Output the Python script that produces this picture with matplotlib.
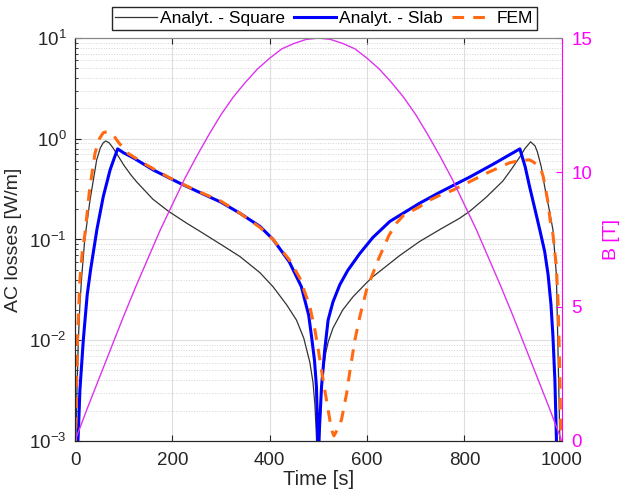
import numpy as np
import matplotlib
matplotlib.use("Agg")
import matplotlib.pyplot as plt
from matplotlib.ticker import LogLocator, NullFormatter

plt.rcParams["font.family"] = ["Liberation Sans", "DejaVu Sans"]

TXT = "#262626"
MAG_LINE = "#dd33ee"
MAG_TXT = "#ff00ff"
BLUE = "#0000ff"
ORANGE = "#ff6a13"
BLACK = "#333333"

# Analytical - square (log10 of losses, W/m)
t_square = [0, 1.5, 4, 6.8, 10, 13.7, 20, 30.8, 38, 44.5, 52, 58, 63, 70, 78, 86,
            100, 115, 127, 160, 192, 230, 257, 300, 339, 380, 407, 435, 455, 470,
            482.5, 489, 493, 496, 498, 500, 501.5, 503, 506, 510, 515, 520, 530,
            550, 571, 599, 612, 667, 708, 750, 790, 811, 845, 879, 897, 914, 924,
            936, 945, 950, 958, 965, 975, 982, 989, 992.5, 996, 998.5]
lg_square = [-3.5, -3.0, -2.5, -2.0, -1.65, -1.37, -1.0, -0.61, -0.40, -0.21, -0.09,
             -0.04, -0.022, -0.04, -0.09, -0.15, -0.26, -0.36, -0.43, -0.60, -0.72,
             -0.84, -0.92, -1.05, -1.17, -1.33, -1.47, -1.65, -1.80, -1.98, -2.22,
             -2.42, -2.65, -2.95, -3.4, -4.0, -3.5, -2.89, -2.55, -2.30, -2.13,
             -2.02, -1.88, -1.70, -1.57, -1.43, -1.37, -1.16, -1.02, -0.90, -0.79,
             -0.72, -0.58, -0.42, -0.30, -0.18, -0.10, -0.03, -0.07, -0.13, -0.28,
             -0.476, -0.72, -0.906, -1.35, -2.13, -2.96, -3.5]

# Analytical - slab
t_slab = [4, 5, 7, 10, 17, 25, 32, 45, 58, 72, 80, 87.6, 100, 120, 160.8, 215.6,
          257, 300, 339, 380, 407, 440, 465, 480, 486, 492, 496, 499, 500, 501,
          506.5, 513, 520, 530, 544, 560, 585, 612, 647, 708, 750, 811,
          860, 914, 925, 934, 945, 955, 965, 972, 978, 982, 986, 989, 991]
lg_slab = [-4.0, -3.1, -2.9, -2.5, -2.0, -1.55, -1.30, -0.90, -0.575, -0.31, -0.20,
           -0.10, -0.14, -0.19, -0.31, -0.442, -0.535, -0.63, -0.74, -0.87, -1.0,
           -1.22, -1.468, -1.75, -1.965, -2.2, -2.46, -3.0, -4.0, -3.0, -2.46, -2.1,
           -1.80, -1.62, -1.45, -1.31, -1.14, -0.98, -0.82, -0.64, -0.53, -0.38,
           -0.25, -0.10, -0.28, -0.476, -0.70, -0.906, -1.12, -1.35,
           -1.65, -1.965, -2.4, -2.96, -3.5]

# FEM
t_fem = [0, 1, 3, 5, 10, 15, 20.5, 30, 41, 50, 58, 65, 72, 78.6, 90, 109, 147, 195,
         250, 300, 339, 380, 407, 440, 462, 482.5, 493, 500, 506.5, 513, 520, 527,
         532, 540, 547.5, 558, 565, 575, 585, 599, 623, 645, 660, 675, 708, 722, 750,
         777, 811, 845, 893, 915, 934, 941, 950, 958, 962, 967, 972, 976, 982, 989,
         992.5, 996, 998, 1000]
lg_fem = [-3.5, -3.0, -2.5, -2.0, -1.40, -1.12, -0.94, -0.50, -0.145, 0.0, 0.06, 0.07,
          0.055, 0.037, -0.04, -0.145, -0.26, -0.39, -0.516, -0.62, -0.74, -0.88, -1.0,
          -1.20, -1.385, -1.667, -1.90, -2.10, -2.30, -2.49, -2.69, -2.89, -2.95,
          -2.88, -2.79, -2.53, -2.30, -2.0, -1.77, -1.50, -1.20, -0.96, -0.84, -0.76,
          -0.675, -0.625, -0.56, -0.509, -0.426, -0.343, -0.238, -0.215, -0.21,
          -0.228, -0.26, -0.31, -0.377, -0.5, -0.64, -0.80, -0.95, -1.27, -1.63,
          -2.30, -2.89, -3.5]

# Magnetic field B [T]
t_b = list(range(0, 1001, 25))
b_field = [0.0, 1.2, 2.35, 3.5, 4.65, 5.75, 6.8, 7.85, 8.8, 9.75, 10.6, 11.4, 12.15,
           12.8, 13.35, 13.85, 14.25, 14.6, 14.8, 14.95, 15.0, 14.95, 14.8, 14.6,
           14.25, 13.85, 13.35, 12.8, 12.15, 11.4, 10.6, 9.75, 8.8, 7.85, 6.8, 5.75,
           4.65, 3.5, 2.35, 1.2, 0.0]

x_ticks = [0, 200, 400, 600, 800, 1000]
b_ticks = [0, 5, 10, 15]

fig = plt.figure(figsize=(6.2, 5.01), dpi=100, facecolor="white")
ax = fig.add_axes([0.121, 0.120, 0.785, 0.804])
ax2 = ax.twinx()

ax.set_yscale("log")
ax.set_xlim(0, 1000)
ax.set_ylim(1e-3, 1e1)

l1, = ax.plot(t_square, 10 ** np.array(lg_square), color=BLACK, lw=0.9,
              label="Analyt. - Square")
l2, = ax.plot(t_slab, 10 ** np.array(lg_slab), color=BLUE, lw=2.2,
              label="Analyt. - Slab")
l3, = ax.plot(t_fem, 10 ** np.array(lg_fem), color=ORANGE, lw=2.2,
              dashes=(3.8, 3.0), label="FEM")

ax2.plot(t_b, b_field, color=MAG_LINE, lw=1.0)
ax2.set_ylim(0, 15)
ax2.set_yticks(b_ticks)

ax.set_xticks(x_ticks)
ax.yaxis.set_major_locator(LogLocator(base=10, numticks=10))
ax.yaxis.set_minor_locator(LogLocator(base=10, subs=np.arange(2, 10), numticks=20))
ax.yaxis.set_minor_formatter(NullFormatter())

ax.grid(True, which="major", color="#dedede", lw=0.8)
ax.grid(True, which="minor", axis="y", color="#d4d4d4", lw=0.7, ls=":")
ax.set_axisbelow(True)

ax.tick_params(which="both", direction="in", top=True, colors=TXT, labelsize=13.5)
ax.tick_params(axis="x", which="major", length=4, pad=8)
ax.tick_params(axis="y", which="major", length=4, pad=6)
ax.tick_params(which="minor", length=2)
ax2.tick_params(direction="in", length=4, pad=7, colors=MAG_TXT, labelsize=13.5)

for s in ["left", "bottom"]:
    ax.spines[s].set_color(TXT)
    ax2.spines[s].set_color(TXT)
ax.spines["top"].set_color("#888888")
ax2.spines["top"].set_color("#888888")
ax2.spines["right"].set_color(MAG_TXT)
ax.spines["right"].set_visible(False)

ax.set_xlabel("Time [s]", fontsize=14.5, color=TXT, labelpad=1)
ax.set_ylabel("AC losses [W/m]", fontsize=14, color=TXT, labelpad=5)
ax2.set_ylabel("B [T]", fontsize=14, color=MAG_TXT, labelpad=8)

fig.legend(handles=[l1, l2, l3], loc="center", bbox_to_anchor=(0.523, 0.963),
           ncol=3, fontsize=12.5, frameon=True, fancybox=False, edgecolor=TXT,
           framealpha=1, handlelength=2.4, handletextpad=0.2, columnspacing=0.5,
           borderpad=0.2, borderaxespad=0)

fig.savefig("out.png", dpi=100, facecolor="white")
